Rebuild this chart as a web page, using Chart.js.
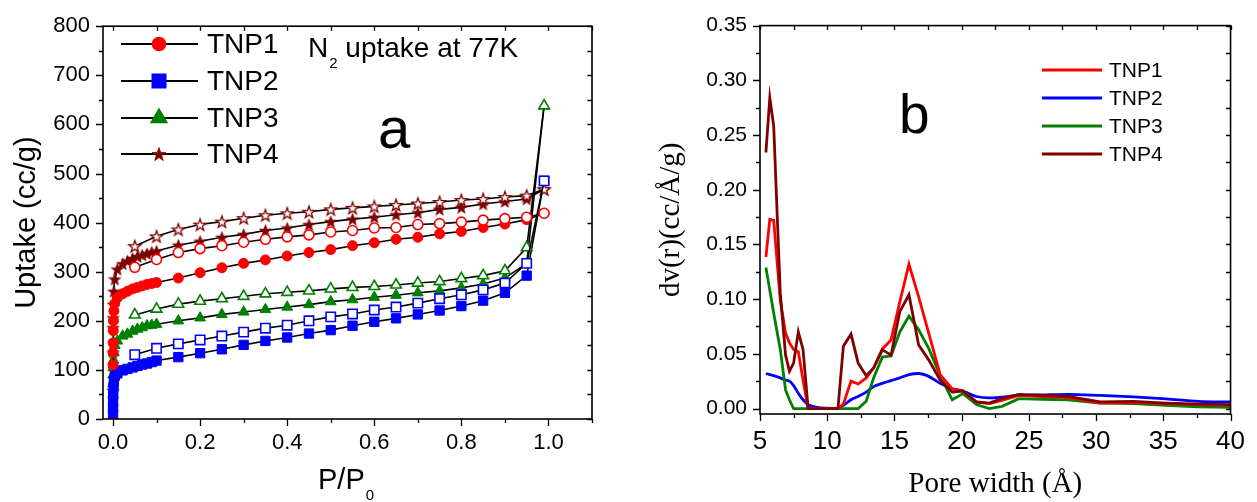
<!DOCTYPE html>
<html>
<head>
<meta charset="utf-8">
<title>TNP N2 isotherms and pore size distribution</title>
<script src="https://cdn.jsdelivr.net/npm/chart.js@4.4.1/dist/chart.umd.min.js"></script>
<style>
  html, body { margin: 0; padding: 0; background: #fff; }
  canvas { position: absolute; top: 0; }
  #isothermChart { left: 0; }
  #psdChart { left: 640px; }
</style>
</head>
<body>
<canvas id="isothermChart" width="620" height="502"></canvas>
<canvas id="psdChart" width="617" height="502"></canvas>
<script>
// ────────────────────────────────────────
// Data
// ────────────────────────────────────────
const SAMPLES = ['TNP1', 'TNP2', 'TNP3', 'TNP4'];

// (a) N2 isotherms at 77 K — adsorption branch (filled markers)
const adsPressure = [
  0.00005, 0.0001, 0.0002, 0.0005, 0.001, 0.002, 0.004,
  0.01, 0.022, 0.033, 0.045, 0.056, 0.067, 0.078, 0.089, 0.1,
  0.15, 0.2, 0.25, 0.3, 0.35, 0.4, 0.45, 0.5, 0.55, 0.6, 0.65, 0.7, 0.75, 0.8, 0.85, 0.9, 0.95,
  0.99,
];
const adsTNP1 = [110, 135, 155, 180, 200, 220, 235, 247, 255, 260, 265, 268, 271, 274, 276, 278,
  287, 298, 308, 317, 324, 332, 339, 345, 353, 359, 366, 370, 377, 382, 390, 397, 406, 419];
const adsTNP2 = [10, 22, 35, 50, 65, 78, 88, 93, 99, 102, 105, 108, 111, 113, 116, 119,
  126, 134, 142, 151, 159, 166, 174, 181, 190, 198, 205, 213, 221, 230, 241, 257, 292, 485];
const adsTNP3 = [50, 72, 90, 105, 120, 135, 150, 159, 169, 173, 179, 183, 186, 190, 191, 193,
  200, 206, 213, 218, 223, 228, 233, 239, 243, 248, 252, 257, 261, 267, 275, 287, 317, 638];
const adsTNP4 = [58, 136, 186, 206, 233, 260, 285, 305, 316, 322, 327, 331, 334, 337, 340, 342,
  354, 362, 370, 376, 384, 389, 396, 402, 407, 411, 416, 420, 427, 431, 438, 443, 448, 468];

// desorption branch (open markers)
const desPressure = [0.99, 0.95, 0.9, 0.85, 0.8, 0.75, 0.7, 0.65, 0.6, 0.55, 0.5,
  0.45, 0.4, 0.35, 0.3, 0.25, 0.2, 0.15, 0.1, 0.05];
const desTNP1 = [419, 411, 408, 405, 401, 398, 396, 390, 389, 384, 381, 375, 371, 366, 360, 353, 347, 339, 325, 309];
const desTNP2 = [485, 317, 277, 263, 253, 245, 236, 228, 222, 214, 208, 200, 191, 185, 177, 169, 161, 153, 144, 131];
const desTNP3 = [638, 349, 302, 292, 286, 280, 277, 273, 270, 268, 265, 261, 258, 255, 250, 245, 240, 234, 224, 212];
const desTNP4 = [468, 455, 452, 448, 446, 442, 439, 436, 433, 430, 427, 422, 419, 415, 409, 402, 396, 386, 372, 352];

const pressureTicks = [0, 0.2, 0.4, 0.6, 0.8, 1.0];
const uptakeTicks = [0, 100, 200, 300, 400, 500, 600, 700, 800];

// (b) DFT pore size distribution
const poreWidth = [5.44, 5.73, 6.02, 6.51, 6.9, 7.19, 7.5, 7.85, 8.2, 8.58, 9.26, 10.0, 10.8,
  11.2, 11.77, 12.3, 12.9, 13.45, 14.1, 14.75, 15.4, 16.08, 16.8, 17.55, 18.4, 19.3, 20.1,
  21.1, 22.05, 23.0, 24.25, 26.0, 27.9, 30.3, 32.8, 35.2, 37.6, 40.0];
const psdTNP1 = [0.1385, 0.173, 0.172, 0.099, 0.069, 0.060, 0.054, 0.052, 0.026, 0, 0, 0, 0,
  0.004, 0.025, 0.0224, 0.028, 0.037, 0.0545, 0.0627, 0.0975, 0.132, 0.102, 0.069, 0.031, 0.018, 0.016,
  0.006, 0.0045, 0.0075, 0.012, 0.011, 0.010, 0.005, 0.0055, 0.0045, 0.0036, 0.003];
const psdTNP2 = [0.032, 0.031, 0.030, 0.028, 0.026, 0.025, 0.021, 0.014, 0.008, 0.0036, 0.001, 0.0003, 0,
  0.003, 0.008, 0.011, 0.015, 0.020, 0.023, 0.0255, 0.028, 0.031, 0.032, 0.0294, 0.023, 0.018, 0.016,
  0.011, 0.0097, 0.0105, 0.012, 0.0125, 0.013, 0.012, 0.0106, 0.0088, 0.0066, 0.006];
const psdTNP3 = [0.129, 0.108, 0.087, 0.054, 0.017, 0.008, 0, 0, 0, 0, 0, 0, 0,
  0, 0, 0, 0.0067, 0.028, 0.047, 0.048, 0.070, 0.0845, 0.072, 0.055, 0.030, 0.008, 0.0136,
  0.0036, 0, 0.002, 0.009, 0.0085, 0.008, 0.005, 0.0045, 0.003, 0.0015, 0.001];
const psdTNP4 = [0.234, 0.284, 0.258, 0.105, 0.049, 0.034, 0.0415, 0.070, 0.054, 0, 0, 0, 0,
  0.057, 0.068, 0.0415, 0.030, 0.037, 0.0536, 0.049, 0.0885, 0.104, 0.058, 0.0445, 0.026, 0.015, 0.016,
  0.006, 0.005, 0.009, 0.013, 0.012, 0.011, 0.006, 0.0065, 0.005, 0.004, 0.0035];

const widthTicks = [5, 10, 15, 20, 25, 30, 35, 40];
const dvTicks = [0, 0.05, 0.10, 0.15, 0.20, 0.25, 0.30, 0.35];

// ────────────────────────────────────────
// Styling helpers
// ────────────────────────────────────────
const SANS = 'Arial, "Liberation Sans", sans-serif';
const SERIF = '"Times New Roman", "Liberation Serif", serif';
const COLORS = ['#ff0000', '#0000ff', '#008000', '#800000'];

Chart.defaults.font.family = SANS;
Chart.defaults.color = '#000';

// Chart.js 'star' is an asterisk, so the five-point star is drawn on a small canvas
function starImage(outer, fill, stroke, lw) {
  const size = Math.ceil(outer * 2 + lw * 2 + 2);
  const c = document.createElement('canvas');
  c.width = c.height = size;
  const g = c.getContext('2d');
  const cx = size / 2, cy = size / 2 + outer * 0.1;
  g.beginPath();
  for (let i = 0; i < 10; i++) {
    const r = i % 2 ? outer * 0.4 : outer;
    const a = -Math.PI / 2 + i * Math.PI / 5;
    g.lineTo(cx + r * Math.cos(a), cy + r * Math.sin(a));
  }
  g.closePath();
  g.fillStyle = fill;
  g.fill();
  g.lineJoin = 'miter';
  g.strokeStyle = stroke;
  g.lineWidth = lw;
  g.stroke();
  return c;
}

const MARKERS = [
  { style: 'circle', radius: 5, legendRadius: 6.3 },
  { style: 'rect', radius: 6.6, legendRadius: 9.2 },
  { style: 'triangle', radius: 6.2, legendRadius: 8.6 },
  { style: 'star', radius: 6.3, legendRadius: 7.2 },
];

function markerStyle(i, open, legend) {
  const m = MARKERS[i];
  if (m.style === 'star') {
    const r = legend ? m.legendRadius : m.radius;
    return open ? starImage(r, '#fff', COLORS[i], 1.3) : starImage(r, COLORS[i], COLORS[i], 0.8);
  }
  return m.style;
}

const pairs = (xs, ys) => xs.map((x, k) => ({ x, y: ys[k] }));

// Frame with inward ticks on top/right and outward major/minor ticks on bottom/left
function frameTicks(opts) {
  return {
    id: 'frameTicks',
    afterDraw(chart) {
      const { ctx, chartArea: a, scales: { x, y } } = chart;
      ctx.save();
      ctx.strokeStyle = '#000';
      ctx.lineWidth = 1.6;
      ctx.strokeRect(a.left, a.top, a.right - a.left, a.bottom - a.top);
      ctx.lineWidth = 1.3;
      ctx.beginPath();
      const nx = Math.round((x.max - opts.xStart) / opts.xMinor);
      for (let i = 0; i <= nx; i++) {
        const px = Math.round(x.getPixelForValue(opts.xStart + i * opts.xMinor)) + 0.5;
        const len = i % 2 === 0 ? 7 : 4;
        ctx.moveTo(px, a.bottom); ctx.lineTo(px, a.bottom + len);
        ctx.moveTo(px, a.top); ctx.lineTo(px, a.top + 4.5);
      }
      const ny = Math.round((y.max - opts.yStart) / opts.yMinor);
      for (let i = 0; i <= ny; i++) {
        const py = Math.round(y.getPixelForValue(opts.yStart + i * opts.yMinor)) + 0.5;
        const len = i % 2 === 0 ? 7 : 4;
        ctx.moveTo(a.left, py); ctx.lineTo(a.left - len, py);
        ctx.moveTo(a.right, py); ctx.lineTo(a.right - 4.5, py);
      }
      ctx.stroke();
      ctx.restore();
    },
  };
}

// Text with a lowered, smaller run (N₂, P/P₀)
function subscriptText(ctx, main, sub, x, y, size, subSize, drop, after) {
  ctx.font = `${size}px ${SANS}`;
  ctx.fillText(main, x, y);
  let cx = x + ctx.measureText(main).width + 1;
  ctx.font = `${subSize}px ${SANS}`;
  ctx.fillText(sub, cx, y + drop);
  cx += ctx.measureText(sub).width;
  if (after) {
    ctx.font = `${size}px ${SANS}`;
    ctx.fillText(after, cx, y);
  }
}

// ────────────────────────────────────────
// (a) Isotherms
// ────────────────────────────────────────
const isothermNotes = {
  id: 'isothermNotes',
  afterDraw(chart) {
    const { ctx } = chart;
    ctx.save();
    ctx.fillStyle = '#000';
    ctx.textBaseline = 'alphabetic';
    subscriptText(ctx, 'N', '2', 308, 57, 28, 15, 11, ' uptake at 77K');
    subscriptText(ctx, 'P/P', '0', 318, 489, 29, 15, 11);
    ctx.font = `58px ${SANS}`;
    ctx.fillText('a', 378, 148);

    // legend: line through marker, sample name
    const rows = [44, 81, 118, 154];
    SAMPLES.forEach((name, i) => {
      const yy = rows[i];
      ctx.strokeStyle = '#000';
      ctx.lineWidth = 2;
      ctx.beginPath();
      ctx.moveTo(121, yy); ctx.lineTo(198, yy);
      ctx.stroke();
      ctx.fillStyle = COLORS[i];
      ctx.strokeStyle = COLORS[i];
      Chart.helpers.drawPoint(ctx, {
        pointStyle: markerStyle(i, false, true),
        radius: MARKERS[i].legendRadius,
        borderWidth: 1,
        rotation: 0,
      }, 159, yy);
      ctx.fillStyle = '#000';
      ctx.font = `28px ${SANS}`;
      ctx.textBaseline = 'middle';
      ctx.fillText(name, 207, yy + 1);
      ctx.textBaseline = 'alphabetic';
    });
    ctx.restore();
  },
};

const adsSeries = [adsTNP1, adsTNP2, adsTNP3, adsTNP4];
const desSeries = [desTNP1, desTNP2, desTNP3, desTNP4];

function isothermDataset(i, open) {
  return {
    label: `${SAMPLES[i]} ${open ? 'desorption' : 'adsorption'}`,
    data: open ? pairs(desPressure, desSeries[i]) : pairs(adsPressure, adsSeries[i]),
    showLine: true,
    borderColor: '#000',
    borderWidth: 1.6,
    pointStyle: markerStyle(i, open, false),
    pointRadius: MARKERS[i].radius,
    pointBackgroundColor: open ? '#fff' : COLORS[i],
    pointBorderColor: COLORS[i],
    pointBorderWidth: open ? 1.6 : 1,
    order: open ? 1 : 2,
  };
}

const isoDatasets = [];
SAMPLES.forEach((_, i) => {
  isoDatasets.push(isothermDataset(i, false));
  isoDatasets.push(isothermDataset(i, true));
});

new Chart(document.getElementById('isothermChart'), {
  type: 'scatter',
  data: { datasets: isoDatasets },
  options: {
    responsive: false,
    animation: false,
    layout: { padding: { top: 22, right: 28, left: 0, bottom: 0 } },
    plugins: { legend: { display: false }, tooltip: { enabled: false } },
    scales: {
      x: {
        type: 'linear',
        min: -0.023,
        max: 1.1,
        grid: { display: false, drawTicks: false },
        border: { display: false },
        afterBuildTicks: s => { s.ticks = pressureTicks.map(v => ({ value: v })); },
        ticks: { font: { size: 22 }, padding: 11, maxRotation: 0, callback: v => v.toFixed(1) },
        afterFit: s => { s.height = 83; },
      },
      y: {
        min: 0,
        max: 800,
        grid: { display: false, drawTicks: false },
        border: { display: false },
        afterBuildTicks: s => { s.ticks = uptakeTicks.map(v => ({ value: v })); },
        ticks: { font: { size: 22 }, padding: 13, callback: v => String(v) },
        title: {
          display: true,
          text: 'Uptake (cc/g)',
          font: { size: 29 },
          padding: { top: 10, bottom: 0 },
        },
        afterFit: s => { s.width = 103; },
      },
    },
  },
  plugins: [frameTicks({ xStart: 0, xMinor: 0.1, yStart: 0, yMinor: 50 }), isothermNotes],
});

// ────────────────────────────────────────
// (b) Pore size distribution
// ────────────────────────────────────────
const psdNotes = {
  id: 'psdNotes',
  afterDraw(chart) {
    const { ctx } = chart;
    ctx.save();
    ctx.fillStyle = '#000';
    ctx.font = `55px ${SANS}`;
    ctx.fillText('b', 259, 133);
    const rows = [70, 98, 126, 154];
    SAMPLES.forEach((name, i) => {
      ctx.strokeStyle = COLORS[i];
      ctx.lineWidth = 3;
      ctx.beginPath();
      ctx.moveTo(402, rows[i]); ctx.lineTo(462, rows[i]);
      ctx.stroke();
      ctx.font = `21px ${SANS}`;
      ctx.textBaseline = 'middle';
      ctx.fillText(name, 469, rows[i] + 1);
    });
    ctx.restore();
  },
};

const psdSeries = [psdTNP1, psdTNP2, psdTNP3, psdTNP4];

new Chart(document.getElementById('psdChart'), {
  type: 'line',
  data: {
    datasets: psdSeries.map((vals, i) => ({
      label: SAMPLES[i],
      data: pairs(poreWidth, vals),
      borderColor: COLORS[i],
      borderWidth: 2.8,
      pointRadius: 0,
      tension: i === 1 ? 0.4 : 0,
      cubicInterpolationMode: i === 1 ? 'monotone' : 'default',
      order: [2, 4, 3, 1][i],
    })),
  },
  options: {
    responsive: false,
    animation: false,
    layout: { padding: { top: 24, right: 18, left: 0, bottom: 0 } },
    plugins: { legend: { display: false }, tooltip: { enabled: false } },
    scales: {
      x: {
        type: 'linear',
        min: 5,
        max: 40,
        grid: { display: false, drawTicks: false },
        border: { display: false },
        afterBuildTicks: s => { s.ticks = widthTicks.map(v => ({ value: v })); },
        ticks: { font: { size: 26 }, padding: 12, maxRotation: 0, callback: v => String(v) },
        title: {
          display: true,
          text: 'Pore width (Å)',
          font: { family: SERIF, size: 29 },
          padding: { top: 0, bottom: 0 },
        },
        afterFit: s => { s.height = 88; },
      },
      y: {
        min: -0.005,
        max: 0.35,
        grid: { display: false, drawTicks: false },
        border: { display: false },
        afterBuildTicks: s => { s.ticks = dvTicks.map(v => ({ value: v })); },
        ticks: { font: { size: 21 }, padding: 13, callback: v => v.toFixed(2) },
        title: {
          display: true,
          text: 'dv(r)(cc/Å/g)',
          font: { family: SERIF, size: 29 },
          padding: { top: 14, bottom: 0 },
        },
        afterFit: s => { s.width = 120; },
      },
    },
  },
  plugins: [frameTicks({ xStart: 5, xMinor: 2.5, yStart: 0, yMinor: 0.025 }), psdNotes],
});
</script>
</body>
</html>
